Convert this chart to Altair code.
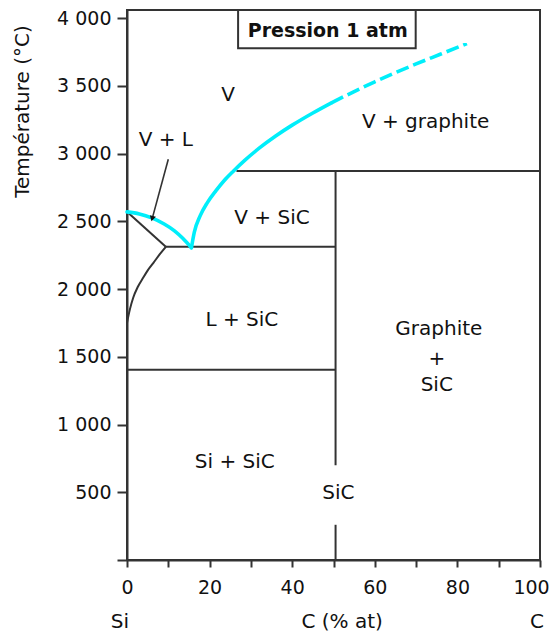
import altair as alt
import pandas as pd

# ---- data ----
# straight phase-boundary segments (C % at, temperature °C)
seg_x = [26.5, 9.4, 0.0, 50.5, 50.5, 0.0]
seg_t = [2872, 2312, 1405, 2872, 260, 2570]
seg_x2 = [100.0, 50.5, 50.5, 50.5, 50.5, 9.4]
seg_t2 = [2872, 2312, 1405, 700, 0, 2312]

# black curved boundary (L / L+SiC)
sol_x = [0.0, 0.7, 1.5, 2.6, 3.9, 5.1, 6.4, 7.9, 9.4]
sol_t = [1751, 1850, 1936, 2015, 2083, 2142, 2194, 2256, 2312]

# cyan vapour boundary, left branch
cl_x = [0.0, 3.0, 6.0, 9.0, 11.5, 13.5, 15.6]
cl_t = [2570, 2555, 2525, 2480, 2430, 2375, 2305]
# cyan vapour boundary, right branch (solid)
cr_x = [15.6, 16.3, 17.7, 19.5, 21.5, 23.5, 25.8, 28.5, 32.0, 36.0, 40.0, 45.0, 49.5]
cr_t = [2305, 2420, 2540, 2640, 2725, 2800, 2872, 2950, 3040, 3130, 3210, 3300, 3375]
# cyan extrapolated part (dashed)
cd_x = [49.5, 55.0, 60.0, 65.0, 70.0, 76.0, 82.3]
cd_t = [3375, 3458, 3530, 3598, 3662, 3735, 3812]

# region labels
lab_text = ["V", "V + L", "V + graphite", "V + SiC", "L + SiC", "Si + SiC", "SiC",
            "Graphite", "+", "SiC", "Si", "C (% at)", "C"]
lab_x = [24.5, 9.4, 72.3, 35.1, 27.8, 26.1, 51.2, 75.5, 75.0, 75.0, -1.7, 52.1, 99.3]
lab_t = [3432, 3100, 3235, 2525, 1772, 726, 492, 1703, 1481, 1292, -458, -458, -458]

# pressure box
box_x, box_x2, box_t, box_t2 = [26.9], [69.9], [3777], [4060]
box_text = ["Pression 1 atm"]
box_tx, box_tt = [48.6], [3903]

# arrow V + L
arr_x, arr_t, arr_x2, arr_t2 = [10.0], [2958], [6.1], [2520]

x_ticks = list(range(0, 101, 10))
y_ticks = list(range(0, 4001, 500))

# ---- build ----
FONT = "DejaVu Sans"
INK = "#333333"
TXT = "#111111"
CYAN = "#00eefa"

xs = alt.Scale(domain=[0, 100], nice=False, zero=False)
ys = alt.Scale(domain=[0, 4060], nice=False, zero=False)
xax = alt.Axis(values=x_ticks, title="", tickSize=7, labelPadding=11,
               labelOffset={"condition": {"test": "datum.value == 100", "value": -9}, "value": 0},
               labelExpr="datum.value % 20 == 0 ? datum.label : ''")
yax = alt.Axis(values=y_ticks, title="Température (°C)", tickSize=10, labelPadding=6,
               labelExpr="datum.value == 0 ? '' : replace(format(datum.value, ','), ',', ' ')",
               titleX=-105, titleY=101, titleAngle=270, titleAlign="center",
               titleBaseline="middle", titleAnchor="middle")


def X(f):
    return alt.X(f, type="quantitative", scale=xs, axis=xax)


def Y(f):
    return alt.Y(f, type="quantitative", scale=ys, axis=yax)


seg_df = pd.DataFrame({"x": seg_x, "t": seg_t, "x2": seg_x2, "t2": seg_t2})
segs = alt.Chart(seg_df).mark_rule(color=INK, strokeWidth=2).encode(
    x=X("x"), y=Y("t"), x2="x2", y2="t2")

sol_df = pd.DataFrame({"x": sol_x, "t": sol_t})
sol = alt.Chart(sol_df).mark_line(color=INK, strokeWidth=2, interpolate="monotone").encode(
    x=X("x"), y=Y("t"))

cy_df = pd.DataFrame({
    "x": cl_x + cr_x,
    "t": cl_t + cr_t,
    "branch": ["L"] * len(cl_x) + ["R"] * len(cr_x),
    "i": list(range(len(cl_x))) + list(range(len(cr_x))),
})
cyan = alt.Chart(cy_df).mark_line(color=CYAN, strokeWidth=3.6, interpolate="monotone",
                                  strokeCap="round").encode(
    x=X("x"), y=Y("t"), detail="branch:N", order="i:Q")

cd_df = pd.DataFrame({"x": cd_x, "t": cd_t})
cyan_d = alt.Chart(cd_df).mark_line(color=CYAN, strokeWidth=3.6, interpolate="monotone",
                                    strokeDash=[13, 5]).encode(x=X("x"), y=Y("t"))

arr_df = pd.DataFrame({"x": arr_x, "t": arr_t, "x2": arr_x2, "t2": arr_t2})
arrow_line = alt.Chart(arr_df).mark_rule(color=INK, strokeWidth=1.6).encode(
    x=X("x"), y=Y("t"), x2="x2", y2="t2")
arrow_head = alt.Chart(arr_df).mark_point(shape="triangle-up", angle=195, size=40,
                                          filled=True, color="#111111", opacity=1).encode(
    x=X("x2"), y=Y("t2"))

box_df = pd.DataFrame({"x": box_x, "x2": box_x2, "t": box_t, "t2": box_t2})
box = alt.Chart(box_df).mark_rect(fill="white", stroke=INK, strokeWidth=2).encode(
    x=X("x"), x2="x2", y=Y("t"), y2="t2")

bt_df = pd.DataFrame({"x": box_tx, "t": box_tt, "s": box_text})
box_txt = alt.Chart(bt_df).mark_text(font=FONT, fontSize=19, fontWeight="bold", color=TXT,
                                     baseline="middle", align="center").encode(
    x=X("x"), y=Y("t"), text="s:N")

lab_df = pd.DataFrame({"x": lab_x, "t": lab_t, "s": lab_text})
labels = alt.Chart(lab_df).mark_text(font=FONT, fontSize=20, color=TXT,
                                     baseline="middle", align="center").encode(
    x=X("x"), y=Y("t"), text="s:N")

chart = alt.layer(segs, sol, cyan, cyan_d, arrow_line, arrow_head, box, box_txt, labels).properties(
    width=413, height=550,
    autosize=alt.AutoSizeParams(type="none"),
    padding={"left": 119, "top": 2, "right": 12, "bottom": 74},
).configure_view(
    stroke=INK, strokeWidth=2
).configure_axis(
    grid=False, domainColor=INK, domainWidth=2, tickColor=INK, tickWidth=2,
    labelFont=FONT, labelFontSize=19, labelColor=TXT, labelFlush=False, labelOverlap=False,
    titleFont=FONT, titleFontSize=20, titleFontWeight="normal", titleColor=TXT,
)

chart.save("out.html", embed_options={"renderer": "svg", "actions": False})
